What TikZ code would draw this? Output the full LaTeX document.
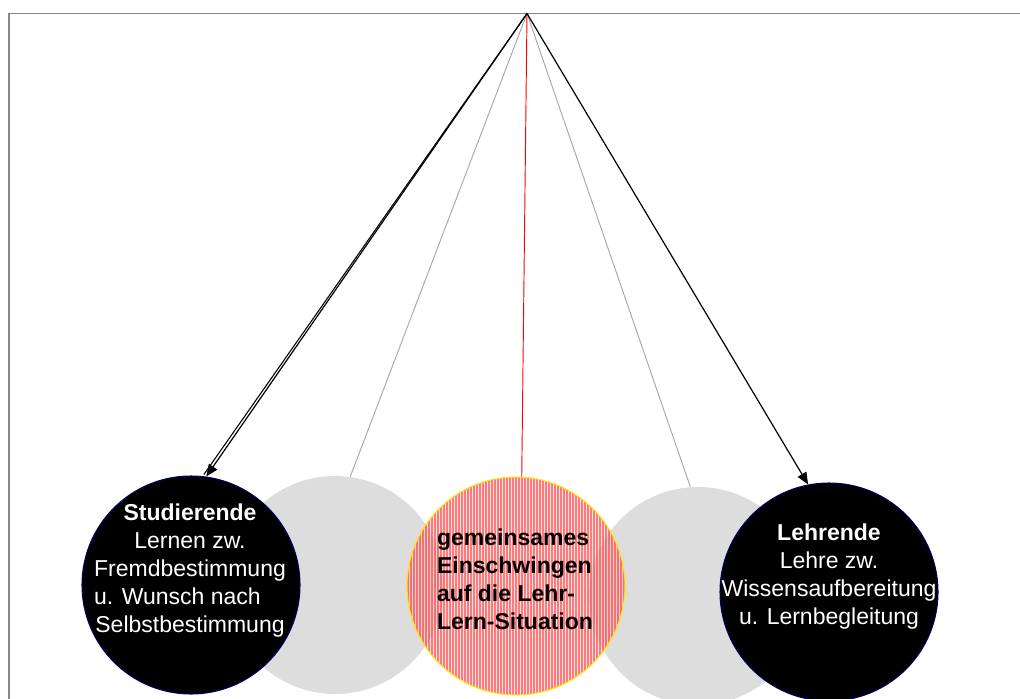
\documentclass[tikz,border=0pt]{standalone}
\usepackage{fontspec}
\setmainfont{Liberation Sans}
\usepackage{calc}
\usetikzlibrary{arrows.meta}
\begin{document}
\begin{tikzpicture}[x=0.75pt,y=-0.75pt,
  framec/.style={draw=gray!95, line width=1.1pt},
  blackc/.style={circle, fill=black, draw=blue!40!black, line width=0.8pt, minimum size=218*0.75pt, inner sep=0pt},
  grayc/.style={circle, fill=gray!27, minimum size=218*0.75pt, inner sep=0pt},
  redc/.style={circle, draw=yellow!90!orange, line width=0.8pt, fill=red!25, fill opacity=0.45, minimum size=218*0.75pt, inner sep=0pt,
    path picture={\foreach \i in {-37,...,37}{\draw[red!85, line width=1.1pt, draw opacity=0.55]
      ([xshift=\i*2.25pt]path picture bounding box.north) -- ([xshift=\i*2.25pt]path picture bounding box.south);}}},
  txtw/.style={text=white, align=center, inner sep=0pt, font=\fontsize{17.25pt}{21pt}\selectfont},
  txtb/.style={text=black, align=left, inner sep=0pt, font=\fontsize{17.25pt}{21pt}\selectfont\bfseries},
  arr/.style={-{Triangle[length=9pt,width=7.5pt]}, line width=0.9pt, black},
  grayline/.style={draw=gray!70, line width=0.7pt},
  redline/.style={draw=red, line width=0.7pt}]
\useasboundingbox (0,0) rectangle (1020,699);
\draw[framec] (9,699) -- (9,13.5) -- (1020,13.5);
\coordinate (apex) at (527,13.5);
\node[grayc] (gl) at (335,585) {};
\node[grayc] (gr) at (698,596) {};
\node[blackc] (stud) at (191,585) {};
\node[blackc] (lehr) at (829,592) {};
\node[redc] (gem) at (516,586) {};
\draw[grayline] (apex) -- (gl.82);
\draw[grayline] (apex) -- (gr.94);
\draw[redline] (apex) -- (gem.87);
\draw[line width=0.8pt] (apex) -- ([xshift=-1.8pt,yshift=1.5pt]stud.82);
\draw[arr] (apex) -- (stud.82);
\draw[arr] (apex) -- (lehr.101);
\node[txtw] (studt) at (190,571) {{\bfseries Studierende}\\Lernen zw.\\Fremdbestimmung\\\makebox[\widthof{Fremdbestimmung}][l]{u. Wunsch nach}\\Selbstbestimmung};
\node[txtw] (lehrt) at (829,577) {{\bfseries Lehrende}\\Lehre zw.\\Wissensaufbereitung\\u. Lernbegleitung};
\node[txtb] (gemt) at (515,579) {gemeinsames\\Einschwingen\\auf die Lehr-\\Lern-Situation};
\end{tikzpicture}
\end{document}
